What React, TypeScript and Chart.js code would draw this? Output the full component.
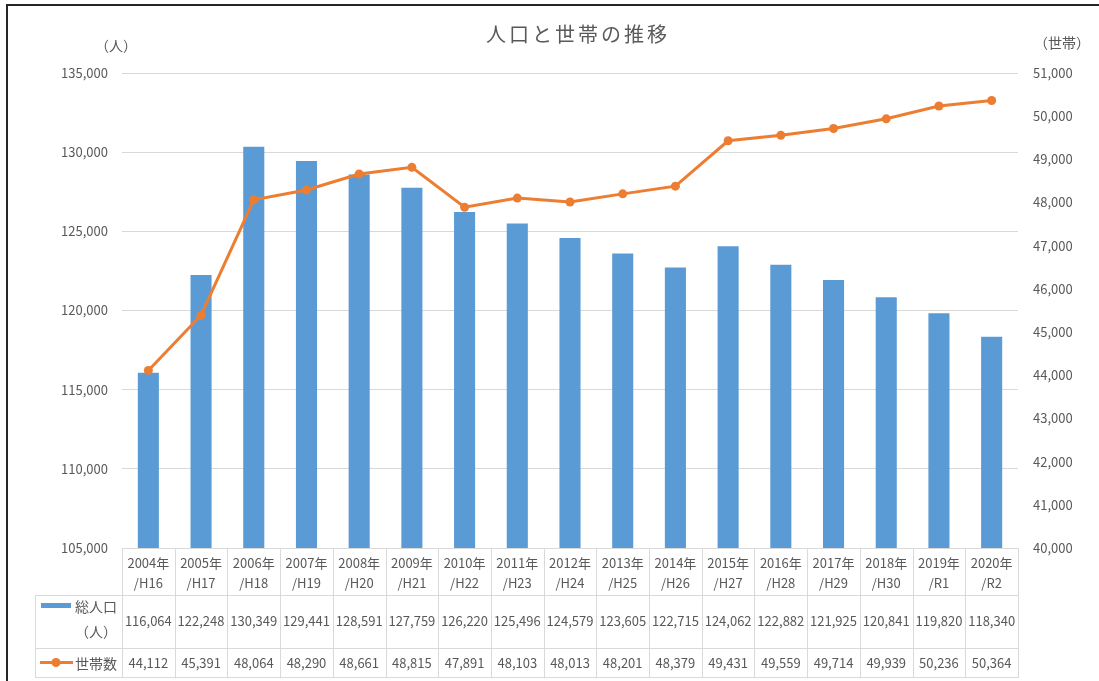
import { useEffect, useRef } from "react";
import { Chart, registerables } from "chart.js";

Chart.register(...registerables);

const years = ["2004年", "2005年", "2006年", "2007年", "2008年", "2009年", "2010年", "2011年", "2012年", "2013年", "2014年", "2015年", "2016年", "2017年", "2018年", "2019年", "2020年"];
const eras = ["/H16", "/H17", "/H18", "/H19", "/H20", "/H21", "/H22", "/H23", "/H24", "/H25", "/H26", "/H27", "/H28", "/H29", "/H30", "/R1", "/R2"];
const population = [116064, 122248, 130349, 129441, 128591, 127759, 126220, 125496, 124579, 123605, 122715, 124062, 122882, 121925, 120841, 119820, 118340];
const households = [44112, 45391, 48064, 48290, 48661, 48815, 47891, 48103, 48013, 48201, 48379, 49431, 49559, 49714, 49939, 50236, 50364];

const title = "人口と世帯の推移";
const popLabel = "総人口";
const popUnit = "（人）";
const hhLabel = "世帯数";
const leftUnit = "（人）";
const rightUnit = "（世帯）";

const FONT = '"Noto Sans CJK JP", "Noto Sans", sans-serif';
const TEXT = "#595959";
const GRID = "#d9d9d9";
const BLUE = "#5b9bd5";
const ORANGE = "#ed7d31";

const fmt = (v: number) => v.toLocaleString("en-US");

const decorPlugin = {
  id: "decor",
  afterDraw(chart: any) {
    const ctx = chart.ctx as CanvasRenderingContext2D;
    const area = chart.chartArea;
    const n = years.length;
    const cw = (area.right - area.left) / n;
    const top = area.bottom;
    const r1 = top + 47;
    const r2 = r1 + 53;
    const r3 = r2 + 29;
    const legL = 35;
    ctx.save();

    // outer frame
    ctx.strokeStyle = "#262626";
    ctx.lineWidth = 2;
    ctx.beginPath();
    ctx.moveTo(7, 681);
    ctx.lineTo(7, 5);
    ctx.lineTo(1099, 5);
    ctx.stroke();

    // title
    ctx.fillStyle = TEXT;
    ctx.font = `20px ${FONT}`;
    (ctx as any).letterSpacing = "3px";
    ctx.textAlign = "center";
    ctx.textBaseline = "middle";
    ctx.fillText(title, 578, 34);
    (ctx as any).letterSpacing = "0px";

    // axis units
    ctx.font = `14px ${FONT}`;
    ctx.fillText(leftUnit, 116, 46);
    ctx.fillText(rightUnit, 1062, 43);

    // table grid
    ctx.strokeStyle = GRID;
    ctx.lineWidth = 1;
    ctx.beginPath();
    for (let i = 0; i <= n; i++) {
      const x = Math.round(area.left + i * cw) + 0.5;
      ctx.moveTo(x, top);
      ctx.lineTo(x, r3);
    }
    ctx.moveTo(legL + 0.5, r1);
    ctx.lineTo(legL + 0.5, r3);
    for (const y of [r1, r2, r3]) {
      ctx.moveTo(legL, y + 0.5);
      ctx.lineTo(area.right + 1, y + 0.5);
    }
    ctx.stroke();

    // table text
    ctx.fillStyle = TEXT;
    ctx.font = `13px ${FONT}`;
    ctx.textAlign = "center";
    for (let i = 0; i < n; i++) {
      const cx = area.left + (i + 0.5) * cw;
      ctx.fillText(years[i], cx, top + 15);
      ctx.fillText(eras[i], cx, top + 35);
      ctx.fillText(fmt(population[i]), cx, (r1 + r2) / 2);
      ctx.fillText(fmt(households[i]), cx, (r2 + r3) / 2 + 1);
    }

    // legend cells
    ctx.font = `14px ${FONT}`;
    ctx.fillText(popLabel, 96, r1 + 12);
    ctx.fillText(popUnit, 96, r1 + 37);
    ctx.fillText(hhLabel, 96, (r2 + r3) / 2 + 1);
    ctx.fillStyle = BLUE;
    ctx.fillRect(41, r1 + 8, 30, 5);
    ctx.strokeStyle = ORANGE;
    ctx.lineWidth = 3;
    ctx.beginPath();
    ctx.moveTo(40, (r2 + r3) / 2);
    ctx.lineTo(73, (r2 + r3) / 2);
    ctx.stroke();
    ctx.fillStyle = ORANGE;
    ctx.beginPath();
    ctx.arc(56, (r2 + r3) / 2, 4.5, 0, Math.PI * 2);
    ctx.fill();
    ctx.restore();
  },
};

export default function App() {
  const ref = useRef<HTMLCanvasElement | null>(null);
  useEffect(() => {
    if (!ref.current) return;
    const chart = new Chart(ref.current, {
      type: "bar",
      data: {
        labels: years.map((y, i) => [y, eras[i]]),
        datasets: [
          {
            type: "line",
            label: hhLabel,
            data: households,
            yAxisID: "y1",
            borderColor: ORANGE,
            backgroundColor: ORANGE,
            borderWidth: 3,
            pointRadius: 4.5,
            pointBorderWidth: 0,
            pointBackgroundColor: ORANGE,
            order: 0,
          } as any,
          {
            type: "bar",
            label: popLabel,
            data: population,
            yAxisID: "y",
            backgroundColor: BLUE,
            barPercentage: 0.4,
            categoryPercentage: 1,
            order: 1,
          },
        ],
      },
      options: {
        responsive: false,
        animation: false,
        layout: { autoPadding: false, padding: { top: 73, bottom: 133, left: 0, right: 0 } },
        plugins: { legend: { display: false }, tooltip: { enabled: false }, title: { display: false } },
        scales: {
          x: { display: false },
          y: {
            position: "left",
            min: 105000,
            max: 135000,
            ticks: { stepSize: 5000, color: TEXT, font: { family: FONT, size: 13 }, padding: 14, callback: (v: any) => fmt(Number(v)) },
            grid: { color: GRID, drawTicks: false },
            border: { display: false },
            afterFit: (s: any) => { s.width = 122; },
          },
          y1: {
            position: "right",
            min: 40000,
            max: 51000,
            ticks: { stepSize: 1000, color: TEXT, font: { family: FONT, size: 13 }, padding: 15, callback: (v: any) => fmt(Number(v)) },
            grid: { display: false, drawTicks: false },
            border: { display: false },
            afterFit: (s: any) => { s.width = 81; },
          },
        },
      },
      plugins: [decorPlugin],
    });
    return () => chart.destroy();
  }, []);
  return (
    <div style={{ position: "fixed", left: 0, top: 0, width: 1099, height: 681, background: "#fff" }}>
      <canvas ref={ref} width={1099} height={681} style={{ display: "block" }} />
    </div>
  );
}
